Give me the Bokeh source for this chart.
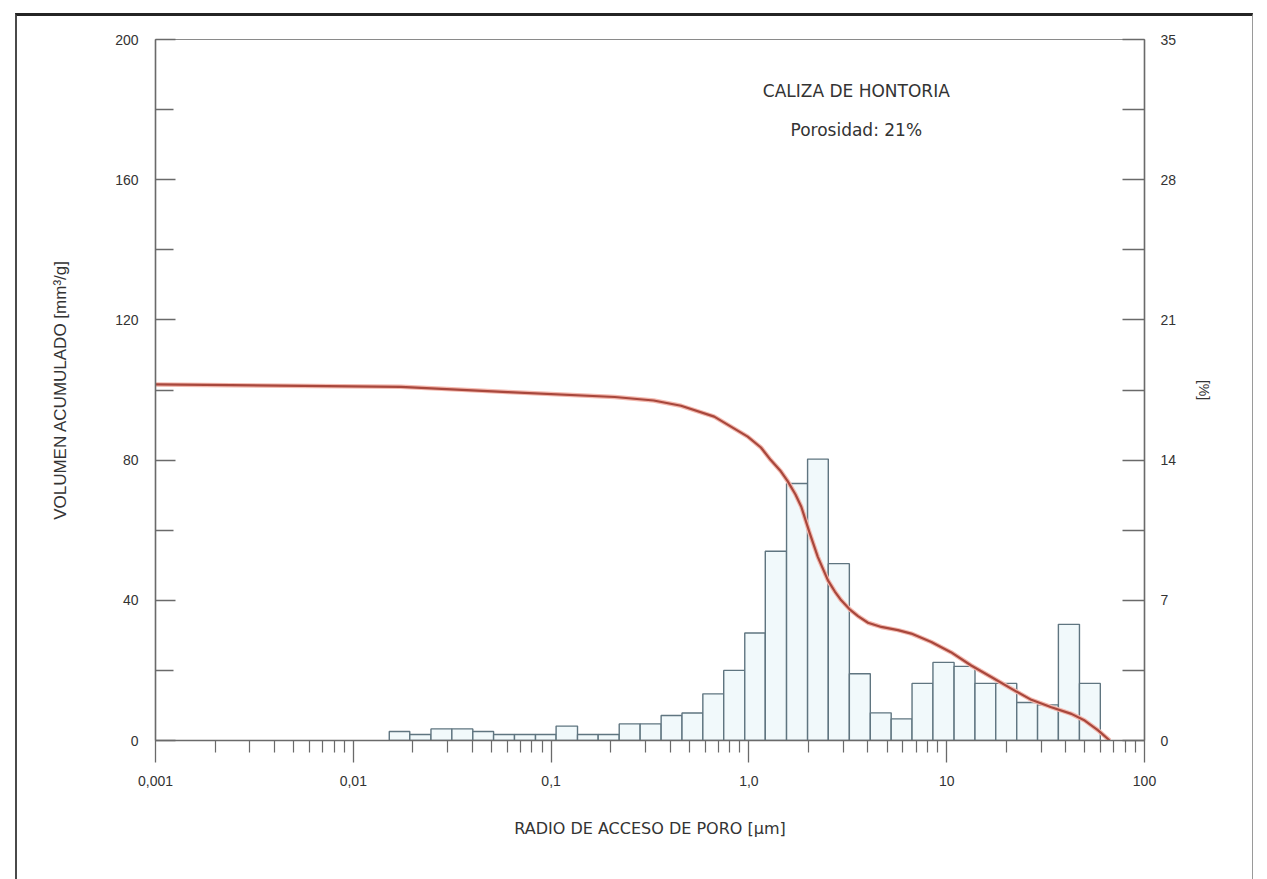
from bokeh.plotting import figure
from bokeh.models import Range1d, LinearAxis, FixedTicker, Label
from bokeh.embed import file_html
from bokeh.resources import INLINE

# ---------------- data ----------------
# histogram bin edges, pore access radius [µm]
bin_edges_um = [0.0152, 0.0193, 0.0247, 0.0315, 0.0402, 0.0512, 0.0653, 0.0834,
                0.106, 0.136, 0.173, 0.221, 0.282, 0.360, 0.459, 0.585, 0.746,
                0.953, 1.21, 1.55, 1.98, 2.52, 3.22, 4.11, 5.24, 6.68, 8.52,
                10.9, 13.9, 17.7, 22.6, 28.8, 36.7, 46.9, 59.8]
# pore fraction in each bin [%] (right axis)
bin_pct = [0.45, 0.30, 0.58, 0.58, 0.45, 0.30, 0.30, 0.30, 0.72, 0.30, 0.30,
           0.83, 0.83, 1.25, 1.37, 2.33, 3.50, 5.37, 9.45, 12.83, 14.05, 8.83,
           3.33, 1.38, 1.08, 2.85, 3.90, 3.70, 2.85, 2.85, 1.90, 1.78, 5.80, 2.85]

# cumulative intruded volume [mm3/g] (left axis)
curve_radius_um = [0.001, 0.0174, 0.0604, 0.21, 0.33, 0.454, 0.668, 0.986, 1.15,
                   1.29, 1.45, 1.57, 1.72, 1.84, 2.02, 2.23, 2.51, 2.72, 2.93,
                   3.22, 3.56, 4.0, 4.67, 5.67, 6.62, 8.36, 10.5, 13.3, 16.8,
                   21.2, 26.8, 33.8, 42.7, 49.9, 58.3, 66.7]
curve_volume = [101.6, 100.9, 99.4, 98.0, 97.0, 95.5, 92.4, 86.7, 83.6,
                80.0, 76.8, 74.0, 70.2, 66.7, 59.5, 52.4, 45.7, 42.5, 40.0,
                37.5, 35.5, 33.6, 32.4, 31.5, 30.5, 28.1, 25.2, 21.4, 18.1,
                14.8, 11.6, 9.5, 7.6, 5.7, 2.9, 0.0]

x_ticks = [0.001, 0.01, 0.1, 1.0, 10.0, 100.0]
x_tick_labels = ["0,001", "0,01", "0,1", "1,0", "10", "100"]
y_left_ticks = [0, 40, 80, 120, 160, 200]
y_left_minor = [20, 60, 100, 140, 180]
y_right_ticks = [0, 7, 14, 21, 28, 35]
y_right_minor = [3.5, 10.5, 17.5, 24.5, 31.5]

title_text = "CALIZA DE HONTORIA"
subtitle_text = "Porosidad: 21%"
x_label = "RADIO DE ACCESO DE PORO [µm]"
y_label = "VOLUMEN ACUMULADO [mm³/g]"
y2_label = "[%]"

# ---------------- figure ----------------
TXT = "#333333"
AX = "#6a6a6a"
TICK_FONT = "Liberation Sans"
LABEL_FONT = "DejaVu Sans"

p = figure(width=1238, height=866, x_axis_type="log",
           x_range=Range1d(0.001, 100), y_range=Range1d(0, 200),
           output_backend="svg", toolbar_location=None,
           min_border_left=138, min_border_right=111,
           min_border_top=23, min_border_bottom=142)
p.styles = {"margin-left": "15px", "margin-top": "13px",
            "border-top": "3px solid #242424",
            "border-left": "2px solid #4a4a4a",
            "border-right": "1px solid #9a9a9a"}
p.extra_y_ranges = {"pct": Range1d(0, 35)}
p.grid.visible = False
p.background_fill_color = "white"
p.border_fill_color = "white"
p.outline_line_color = "#8a8a8a"
p.outline_line_width = 1.2

# x axis
xa = p.xaxis[0]
xa.ticker = FixedTicker(ticks=x_ticks,
                        minor_ticks=[m * d for d in x_ticks[:-1] for m in range(2, 10)])
xa.major_label_overrides = dict(zip(x_ticks, x_tick_labels))
xa.axis_label = x_label
xa.axis_label_text_font = LABEL_FONT
xa.axis_label_text_font_size = "16px"
xa.axis_label_text_font_style = "normal"
xa.axis_label_text_color = TXT
xa.axis_label_standoff = 30
xa.major_label_text_font = TICK_FONT
xa.major_label_text_font_size = "14px"
xa.major_label_text_color = TXT
xa.major_label_standoff = 13
xa.major_tick_in = 0
xa.major_tick_out = 22
xa.minor_tick_in = 0
xa.minor_tick_out = 12
xa.axis_line_color = AX
xa.axis_line_width = 1.5
xa.major_tick_line_color = AX
xa.minor_tick_line_color = AX
xa.major_tick_line_width = 1.3
xa.minor_tick_line_width = 1.2

# left axis
ya = p.yaxis[0]
ya.ticker = FixedTicker(ticks=y_left_ticks, minor_ticks=y_left_minor)
ya.axis_label = y_label
ya.axis_label_text_font = "Liberation Sans"
ya.axis_label_text_font_size = "17px"
ya.axis_label_text_font_style = "normal"
ya.axis_label_text_color = TXT
ya.axis_label_standoff = 42
ya.major_label_text_font = TICK_FONT
ya.major_label_text_font_size = "14px"
ya.major_label_text_color = TXT
ya.major_label_standoff = 17
ya.major_tick_in = 20
ya.major_tick_out = 0
ya.minor_tick_in = 18
ya.minor_tick_out = 0
ya.axis_line_color = AX
ya.axis_line_width = 1.5
ya.major_tick_line_color = AX
ya.minor_tick_line_color = AX
ya.major_tick_line_width = 1.3
ya.minor_tick_line_width = 1.3

# right axis (%)
ra = LinearAxis(y_range_name="pct",
                ticker=FixedTicker(ticks=y_right_ticks, minor_ticks=y_right_minor))
ra.axis_label = y2_label
ra.axis_label_text_font = "Liberation Sans"
ra.axis_label_text_font_size = "14px"
ra.axis_label_text_font_style = "normal"
ra.axis_label_text_color = TXT
ra.axis_label_standoff = 17
ra.major_label_text_font = TICK_FONT
ra.major_label_text_font_size = "14px"
ra.major_label_text_color = TXT
ra.major_label_standoff = 16
ra.major_tick_in = 22
ra.major_tick_out = 0
ra.minor_tick_in = 22
ra.minor_tick_out = 0
ra.axis_line_color = AX
ra.axis_line_width = 1.5
ra.major_tick_line_color = AX
ra.minor_tick_line_color = AX
ra.major_tick_line_width = 1.3
ra.minor_tick_line_width = 1.3
p.add_layout(ra, "right")

# histogram bars (right % scale)
p.quad(left=bin_edges_um[:-1], right=bin_edges_um[1:], bottom=0, top=bin_pct,
       y_range_name="pct", fill_color="#f1f9fb", fill_alpha=1.0,
       line_color="#5f7580", line_width=1.4)

# cumulative curve
p.line(curve_radius_um, curve_volume, line_color="#f3b8ae", line_width=4.5,
       line_join="round")
p.line(curve_radius_um, curve_volume, line_color="#a8473c", line_width=2.2,
       line_join="round")

# titles inside the plot
p.add_layout(Label(x=3.49, y=185.4, text=title_text, text_font=LABEL_FONT,
                   text_font_size="17px", text_color=TXT,
                   text_align="center", text_baseline="middle"))
p.add_layout(Label(x=3.49, y=174.3, text=subtitle_text, text_font=LABEL_FONT,
                   text_font_size="17px", text_color=TXT,
                   text_align="center", text_baseline="middle"))

open("out.html", "w").write(file_html(p, INLINE))
